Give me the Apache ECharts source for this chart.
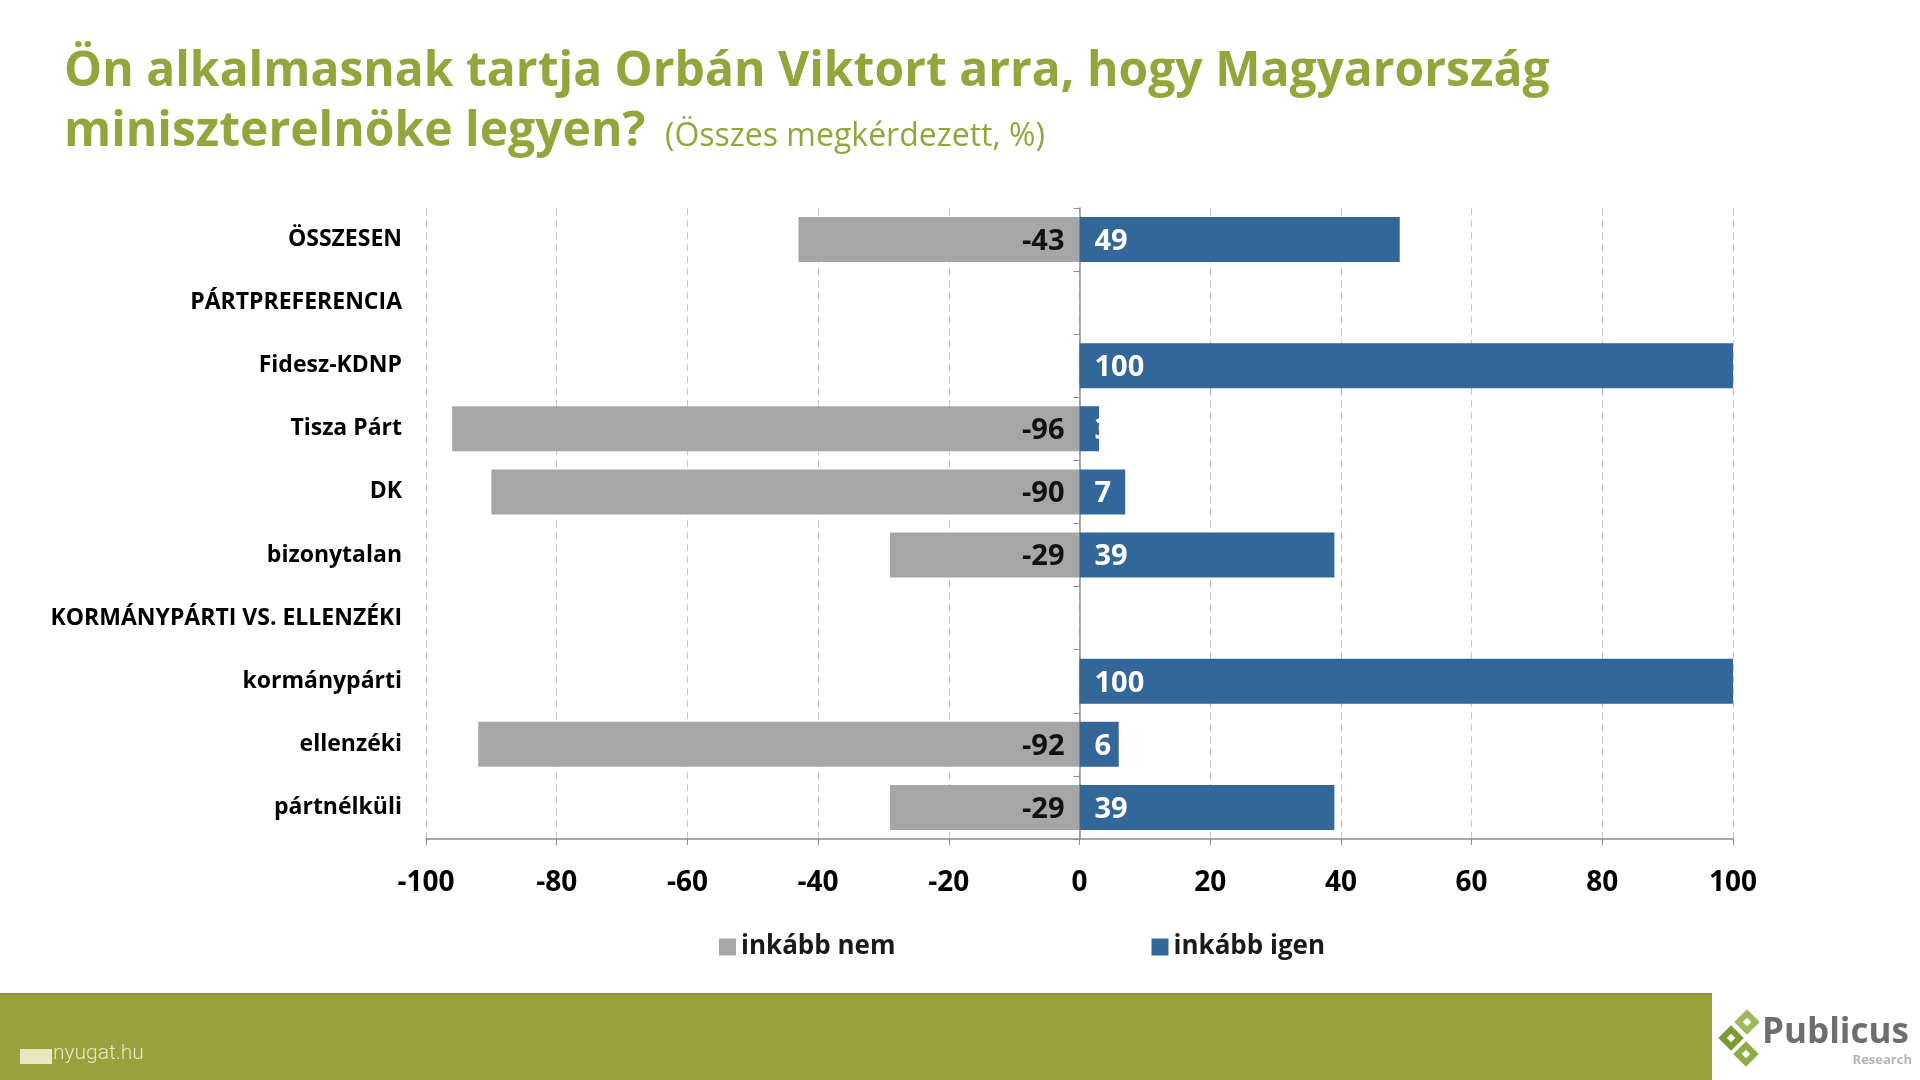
<!DOCTYPE html>
<html>
<head>
<meta charset="utf-8">
<title>Orbán Viktor – alkalmasság</title>
<script src="https://cdn.jsdelivr.net/npm/echarts@6/dist/echarts.min.js"></script>
<style>
  html, body { margin: 0; padding: 0; background: #fff; }
  #chart { width: 1920px; height: 1080px; }
</style>
</head>
<body>
<div id="chart"></div>
<script>
// categories top to bottom
const categories = ['ÖSSZESEN', 'PÁRTPREFERENCIA', 'Fidesz-KDNP', 'Tisza Párt', 'DK', 'bizonytalan',
  'KORMÁNYPÁRTI VS. ELLENZÉKI', 'kormánypárti', 'ellenzéki', 'pártnélküli']
// "inkább nem" (negative side) and "inkább igen"
const nemValues = [-43, null, null, -96, -90, -29, null, null, -92, -29]
const igenValues = [49, null, 100, 3, 7, 39, null, 100, 6, 39]
const xTicks = [-100, -80, -60, -40, -20, 0, 20, 40, 60, 80, 100]
const seriesNames = ['inkább nem', 'inkább igen']

const GREEN = '#94a53c'
const GRAY = '#a6a6a6'
const BLUE = '#336699'
const FONT = '"Open Sans", "Noto Sans", sans-serif'

const chart = echarts.init(document.getElementById('chart'))

chart.setOption({
  animation: false,
  backgroundColor: '#fff',
  textStyle: { fontFamily: FONT },
  grid: { left: 426, right: 187, top: 208, bottom: 241 },
  legend: {
    data: seriesNames,
    left: 714,
    top: 929,
    icon: 'rect',
    itemWidth: 17,
    itemHeight: 17,
    itemGap: 256,
    textStyle: { fontSize: 26, fontWeight: 'bold', color: '#1a1a1a', fontFamily: FONT }
  },
  xAxis: {
    type: 'value',
    min: xTicks[0],
    max: xTicks[xTicks.length - 1],
    interval: 20,
    axisLine: { show: true, lineStyle: { color: '#8c8c8c', width: 1.5 } },
    axisTick: { show: true, length: 6, lineStyle: { color: '#8c8c8c' } },
    axisLabel: { fontSize: 28, fontWeight: 'bold', color: '#000', margin: 30 },
    splitLine: { show: true, lineStyle: { color: '#c4c4c4', type: [7, 5], width: 1 } }
  },
  yAxis: [
    {
      type: 'category',
      data: categories,
      inverse: true,
      axisLine: { show: false, onZero: false },
      axisTick: { show: false },
      axisLabel: { fontSize: 23, fontWeight: 'bold', color: '#000', margin: 24 }
    },
    {
      // zero line with small ticks between the rows
      type: 'category',
      data: categories,
      inverse: true,
      position: 'left',
      axisLine: { show: true, onZero: true, lineStyle: { color: '#8c8c8c', width: 1.5 } },
      axisTick: { show: true, length: 6, lineStyle: { color: '#8c8c8c' } },
      axisLabel: { show: false }
    }
  ],
  series: [
    {
      name: seriesNames[0],
      type: 'bar',
      stack: 'total',
      data: nemValues,
      barWidth: 45,
      itemStyle: { color: GRAY },
      label: {
        show: true,
        position: 'insideRight',
        distance: 15,
        fontSize: 29,
        fontWeight: 'bold',
        color: '#111',
        offset: [0, 2]
      }
    },
    {
      name: seriesNames[1],
      type: 'bar',
      stack: 'total',
      data: igenValues,
      barWidth: 45,
      itemStyle: { color: BLUE },
      label: {
        show: true,
        position: 'insideLeft',
        distance: 15,
        fontSize: 29,
        fontWeight: 'bold',
        color: '#fff',
        offset: [0, 2]
      }
    }
  ],
  graphic: [
    // title
    {
      type: 'text', left: 64, top: 48,
      style: { text: 'Ön alkalmasnak tartja Orbán Viktort arra, hogy Magyarország', fill: GREEN,
        font: 'bold 48px ' + FONT }
    },
    {
      type: 'text', left: 64, top: 108,
      style: { text: 'miniszterelnöke legyen?', fill: GREEN, font: 'bold 48px ' + FONT }
    },
    {
      type: 'text', left: 665, top: 121,
      style: { text: '(Összes megkérdezett, %)', fill: GREEN, font: '32px ' + FONT }
    },
    // footer band
    { type: 'rect', shape: { x: 0, y: 994, width: 1712, height: 86 }, style: { fill: '#97a23c' } },
    { type: 'rect', shape: { x: 0, y: 993, width: 1712, height: 2 }, style: { fill: '#8b9636' } },
    { type: 'rect', shape: { x: 20, y: 1049, width: 32, height: 15 }, style: { fill: '#e6e8c0' } },
    {
      type: 'text', left: 53, top: 1043,
      style: { text: 'nyugat.hu', fill: '#e6e8c0', font: '300 21px Roboto, sans-serif' }
    },
    // Publicus logo
    {
      type: 'group', x: 1747, y: 1022, rotation: Math.PI / 4,
      children: [
        { type: 'rect', shape: { x: -9, y: -9, width: 18, height: 18 }, style: { fill: '#9fb85a' } },
        { type: 'rect', shape: { x: -3, y: -3, width: 6, height: 6 }, style: { fill: '#fff' } }
      ]
    },
    {
      type: 'group', x: 1731, y: 1038, rotation: Math.PI / 4,
      children: [
        { type: 'rect', shape: { x: -9, y: -9, width: 18, height: 18 }, style: { fill: '#7c9a33' } },
        { type: 'rect', shape: { x: -3, y: -3, width: 6, height: 6 }, style: { fill: '#fff' } }
      ]
    },
    {
      type: 'group', x: 1746, y: 1054, rotation: Math.PI / 4,
      children: [
        { type: 'rect', shape: { x: -9, y: -9, width: 18, height: 18 }, style: { fill: '#8fab45' } },
        { type: 'rect', shape: { x: -3, y: -3, width: 6, height: 6 }, style: { fill: '#fff' } }
      ]
    },
    {
      type: 'text', left: 1762, top: 1016,
      style: { text: 'Publicus', fill: '#6d6e70', font: 'bold 35px ' + FONT }
    },
    {
      type: 'text', right: 8, top: 1054,
      style: { text: 'Research', fill: '#b5b5b5', font: 'bold 13px ' + FONT }
    }
  ]
})

window.addEventListener('resize', () => chart.resize())
</script>
</body>
</html>
